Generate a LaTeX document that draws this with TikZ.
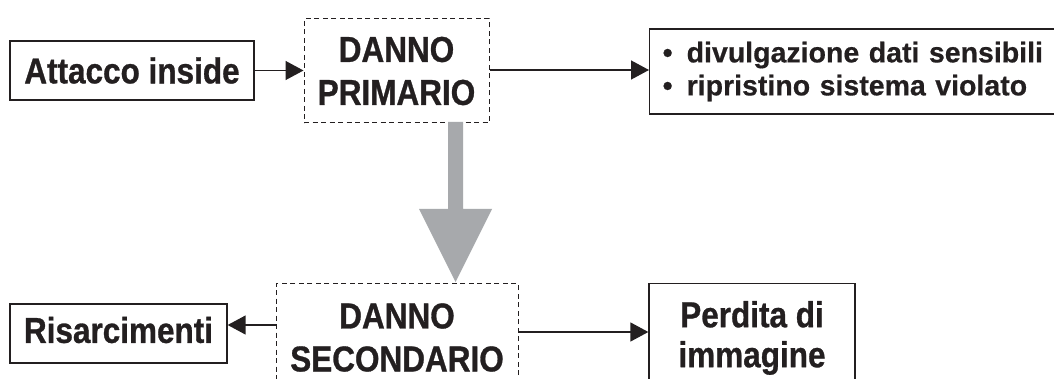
\documentclass[tikz,border=0pt]{standalone}
\usepackage{fontspec}
\usetikzlibrary{arrows.meta}
\newfontfamily\bigfont{Liberation Sans}[FakeStretch=0.875,FakeBold=0.8]
\newfontfamily\listfont{Liberation Sans}[FakeBold=0.5]
\definecolor{ink}{HTML}{231F20}
\definecolor{greyfill}{HTML}{A7A9AC}
\begin{document}
\begin{tikzpicture}[x=1pt,y=-1pt,
  box/.style={draw=ink,line width=1.3pt,inner sep=0pt,text=ink},
  dbox/.style={box,dashed,dash pattern=on 5pt off 3.5pt,line width=1pt},
  bigtxt/.style={font=\bigfont\bfseries\fontsize{36}{43}\selectfont,text=ink,align=center,inner sep=0pt},
  arr/.style={draw=ink,line width=1.4pt,-{Triangle[length=18pt,width=19pt]}}]
\useasboundingbox (0,0) rectangle (1054,379);
\clip (0,0) rectangle (1054,379);
\fill[white] (0,0) rectangle (1054,379);

% upper row
\node[box,bigtxt,minimum width=244pt,minimum height=59pt] (att) at (132,70.5) {Attacco inside};
\node[dbox,bigtxt,minimum width=185pt,minimum height=104pt] (pri) at (396.5,71) {DANNO\\PRIMARIO};
\node[box,anchor=west,minimum height=85pt,text width=400pt,inner xsep=13pt,align=left,
      font=\listfont\bfseries\fontsize{28.5}{33}\selectfont] (lst) at (649,71.5)
  {\makebox[24pt][l]{•}divulgazione dati sensibili\\\makebox[24pt][l]{•}ripristino sistema violato};

% lower row
\node[dbox,minimum width=242pt,minimum height=130pt,anchor=north] (sec) at (397,283) {};
\node[bigtxt] (sectxt) at (397,337.5) {DANNO\\SECONDARIO};
\node[box,minimum width=217pt,minimum height=59pt] (ris) at (118.5,333.5) {};
\node[bigtxt] (ristxt) at (118.5,330) {Risarcimenti};
\node[box,minimum width=206pt,minimum height=130pt,anchor=north] (per) at (752,283) {};
\node[bigtxt,font=\bigfont\bfseries\fontsize{36}{40}\selectfont] (pertxt) at (752,338) {Perdita di\\immagine};

% connectors
\draw[arr] (att.east) -- (pri.west |- att.east);
\draw[arr] (pri.east |- 0,70) -- (lst.west |- 0,70);
\draw[arr] (sec.west |- 0,325) -- (ris.east |- 0,325);
\draw[arr] (sec.east |- 0,332) -- (per.west |- 0,332);

% broad grey arrow from primary to secondary damage
\fill[greyfill] (448,122) -- (463,122) -- (463,209) -- (492,209) -- (455.5,282)
  -- (419,209) -- (448,209) -- cycle;
\end{tikzpicture}
\end{document}
